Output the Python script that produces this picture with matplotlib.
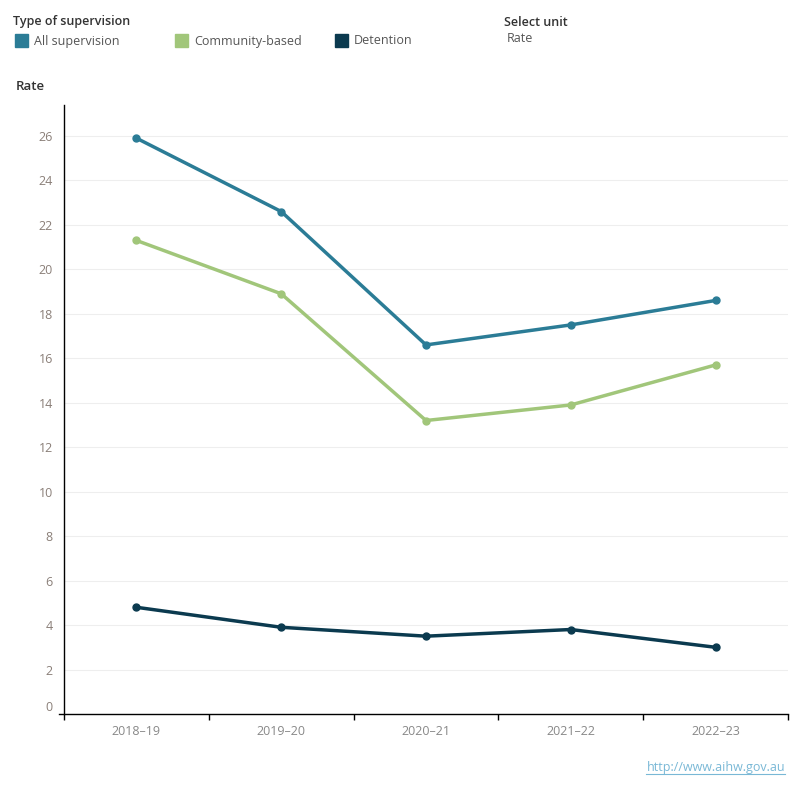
import matplotlib.pyplot as plt
import matplotlib.transforms as mtransforms
from matplotlib.patches import Rectangle

years = ["2018\u201319", "2019\u201320", "2020\u201321", "2021\u201322", "2022\u201323"]
all_supervision = [25.9, 22.6, 16.6, 17.5, 18.6]
community_based = [21.3, 18.9, 13.2, 13.9, 15.7]
detention = [4.8, 3.9, 3.5, 3.8, 3.0]

series_names = ["All supervision", "Community-based", "Detention"]
series_colors = ["#2b7c96", "#a1c67a", "#0b3a4f"]
y_ticks = list(range(0, 27, 2))

plt.rcParams["font.family"] = ["Open Sans", "DejaVu Sans"]

fig = plt.figure(figsize=(8, 8), dpi=100)
ax = fig.add_axes([0.08, 0.1075, 0.905, 0.7615])

x = list(range(len(years)))
for values, color in zip([all_supervision, community_based, detention], series_colors):
    ax.plot(x, values, color=color, linewidth=2.5, marker="o", markersize=5, zorder=3)

ax.set_xlim(-0.5, len(years) - 0.5)
ax.set_ylim(0, 27.4)
ax.set_xticks(x)
ax.set_xticklabels(years, color="#888888", fontsize=9)
ax.set_xticks([i - 0.5 for i in range(len(years) + 1)], minor=True)
ax.tick_params(axis="x", which="major", length=0, pad=8)
ax.tick_params(axis="x", which="minor", length=4, width=1, color="black")
ax.set_yticks(y_ticks)
ax.set_yticklabels([str(v) for v in y_ticks], color="#8a7f78", fontsize=9)
ax.tick_params(axis="y", length=0, pad=8)
# the zero label sits a little above the axis line
ax.get_yticklabels()[0].set_transform(
    ax.get_yticklabels()[0].get_transform()
    + mtransforms.ScaledTranslation(0, 8 / 100, fig.dpi_scale_trans))
ax.grid(axis="y", color="#eeeeee", linewidth=0.8)
ax.set_axisbelow(True)
for side in ["top", "right"]:
    ax.spines[side].set_visible(False)
for side in ["left", "bottom"]:
    ax.spines[side].set_color("black")
    ax.spines[side].set_linewidth(1)
ax.spines["bottom"].set_bounds(-0.535, len(years) - 0.5)

# legend header
fig.text(13 / 800, 1 - 22 / 800, "Type of supervision", fontsize=9, color="#333333",
         fontweight="semibold", va="center")
legend_x = [15, 175, 335]
for lx, name, color in zip(legend_x, series_names, series_colors):
    fig.patches.append(Rectangle((lx / 800, 1 - 47 / 800), 13 / 800, 13 / 800,
                                 transform=fig.transFigure, color=color))
    fig.text((lx + 19) / 800, 1 - 41 / 800, name, fontsize=9, color="#555555", va="center")

fig.text(504 / 800, 1 - 22 / 800, "Select unit", fontsize=9, color="#333333",
         fontweight="semibold", va="center")
fig.text(507 / 800, 1 - 39 / 800, "Rate", fontsize=9, color="#555555", va="center")
fig.text(16 / 800, 1 - 86 / 800, "Rate", fontsize=9.5, color="#333333",
         fontweight="semibold", va="center")

fig.text(785 / 800, 1 - 767 / 800, "http://www.aihw.gov.au", fontsize=9,
         color="#79b8d6", ha="right", va="center")
fig.add_artist(plt.Line2D([646 / 800, 785 / 800], [1 - 774 / 800, 1 - 774 / 800],
                          transform=fig.transFigure, color="#79b8d6", linewidth=0.8))

fig.savefig("out.png", dpi=100)
